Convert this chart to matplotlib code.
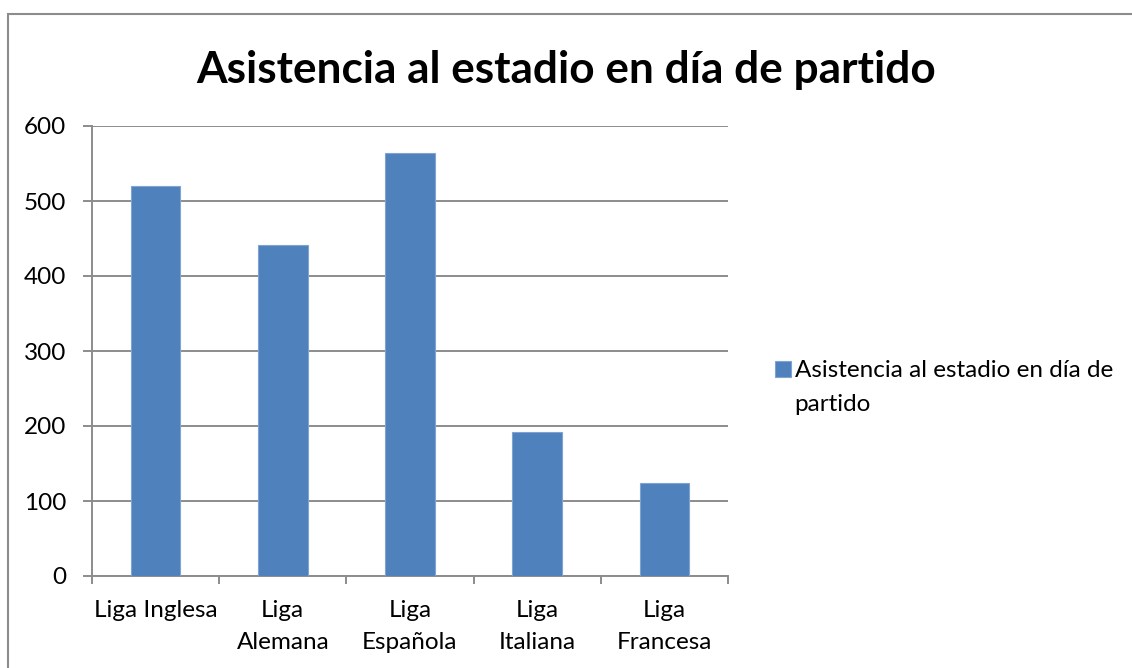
## Recreate bar chart: stadium attendance per league on match day
import numpy as np
import matplotlib.pyplot as plt
from matplotlib.patches import Rectangle

# Data
ligas = ['Liga Inglesa', 'Liga\nAlemana', 'Liga\nEspañola', 'Liga\nItaliana', 'Liga\nFrancesa']
asistencia = [520, 441, 564, 192, 124]
y_ticks = [0, 100, 200, 300, 400, 500, 600]
titulo = 'Asistencia al estadio en día de partido'
serie = ['Asistencia al estadio en día de', 'partido']   # legend label, wrapped in two lines

plt.rcParams['font.family'] = ['Lato', 'DejaVu Sans']

fig = plt.figure(figsize=(11.32, 6.68), dpi=100, facecolor='white')
ax = fig.add_axes([92/1132, 1-576/668, (728-92)/1132, (576-126)/668])

x = np.arange(len(ligas))
ax.bar(x, asistencia, width=0.39, color='#4F81BD', edgecolor='#7FA4D1', linewidth=0.8,
       label=serie[0], zorder=3)

ax.set_xlim(-0.5, len(ligas)-0.5)
ax.set_ylim(0, 600)
ax.set_yticks(y_ticks)
ax.set_yticklabels([str(v) for v in y_ticks], fontsize=17.5)
ax.yaxis.grid(True, color='#8C8C8C', linewidth=1.4, zorder=0)
ax.tick_params(axis='y', length=6.5, color='#8C8C8C', width=1.4, pad=12)

# category boundaries as major ticks, labels on minor ticks
ax.set_xticks(np.arange(-0.5, len(ligas)), labels=[''] * (len(ligas)+1))
ax.set_xticks(x, labels=ligas, minor=True)
ax.tick_params(axis='x', which='major', length=6, color='#8C8C8C', width=1.4)
ax.tick_params(axis='x', which='minor', length=0, pad=17, labelsize=17.5)
for lbl in ax.get_xticklabels(minor=True):
    lbl.set_linespacing(1.65)

for s in ['top', 'right']:
    ax.spines[s].set_visible(False)
for s in ['left', 'bottom']:
    ax.spines[s].set_color('#8C8C8C')
    ax.spines[s].set_linewidth(1.4)

fig.text(566/1132, 1-70/668, titulo, ha='center', va='center', fontsize=31.8, fontweight='bold')

leg = ax.legend(loc='center left', bbox_to_anchor=(1.055, 0.456), frameon=False, fontsize=17.5,
                handlelength=0.65, handleheight=0.65, handletextpad=0.15, borderpad=0)

# second line of the legend label, under the first one
fig.canvas.draw()
bb = leg.get_texts()[0].get_window_extent()
fig.text(bb.x0/1132, (bb.y0 - 34)/668, serie[1], ha='left', va='bottom', fontsize=17.5)

# chart border
fig.patches.append(Rectangle((8/1132, -0.1), 1.2, 1.1 - 14/668, transform=fig.transFigure,
                             fill=False, edgecolor='#8C8C8C', linewidth=1.5))

plt.savefig('out.png', dpi=100, facecolor='white')
